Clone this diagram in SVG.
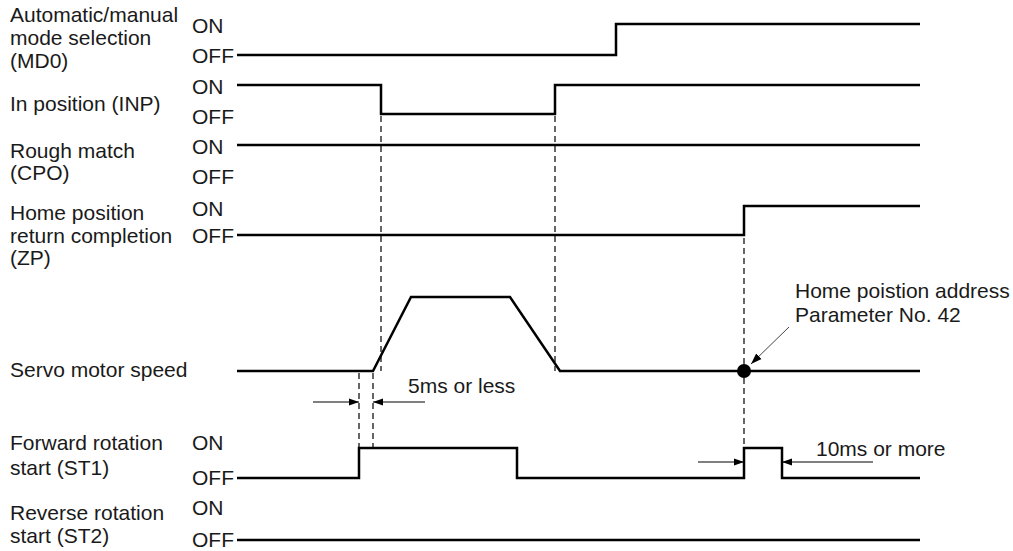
<svg xmlns="http://www.w3.org/2000/svg" width="1013" height="551" viewBox="0 0 1013 551">
<defs>
<style>
text{font-family:"Liberation Sans",Arial,sans-serif;font-size:21px;fill:#1a1a1a}
.sig{fill:none;stroke:#000;stroke-width:2.5}
.dash{fill:none;stroke:#000;stroke-width:1.2;stroke-dasharray:6,4}
.arr{fill:none;stroke:#000;stroke-width:1}
</style>
<marker id="ah" viewBox="0 0 10 10" refX="10" refY="5" markerWidth="10" markerHeight="10" markerUnits="userSpaceOnUse" orient="auto"><path d="M0,1.5L10,5L0,8.5Z" fill="#000"/></marker>
<marker id="ahg" viewBox="0 0 10 10" refX="10" refY="5" markerWidth="11" markerHeight="11" markerUnits="userSpaceOnUse" orient="auto"><path d="M0,1.5L10,5L0,8.5Z" fill="#000"/></marker>
</defs>
<rect width="1013" height="551" fill="#fff"/>

<g id="md0">
<text x="10" y="22">Automatic/manual</text>
<text x="10" y="45">mode selection</text>
<text x="10" y="68">(MD0)</text>
<text x="192" y="33">ON</text>
<text x="192" y="63">OFF</text>
<path class="sig" d="M237,55H616V24H920"/>
</g>

<g id="inp">
<text x="10" y="111">In position (INP)</text>
<text x="192" y="94">ON</text>
<text x="192" y="124">OFF</text>
<path class="sig" d="M237,85H381V114H555V85H920"/>
</g>

<g id="cpo">
<text x="10" y="158">Rough match</text>
<text x="10" y="180">(CPO)</text>
<text x="192" y="154">ON</text>
<text x="192" y="184">OFF</text>
<path class="sig" d="M237,145H920"/>
</g>

<g id="zp">
<text x="10" y="220">Home position</text>
<text x="10" y="243">return completion</text>
<text x="10" y="265">(ZP)</text>
<text x="192" y="216">ON</text>
<text x="192" y="243">OFF</text>
<path class="sig" d="M237,235H744V206H920"/>
</g>

<g id="speed">
<text x="10" y="377">Servo motor speed</text>
<path class="sig" d="M237,371H373L411,297H510L560,371H920"/>
<circle cx="744" cy="371" r="7" fill="#000"/>
</g>

<g id="st1">
<text x="10" y="450">Forward rotation</text>
<text x="10" y="475">start (ST1)</text>
<text x="192" y="450">ON</text>
<text x="192" y="485">OFF</text>
<path class="sig" d="M237,478H359V448H517V478H744V448H782V478H920"/>
</g>

<g id="st2">
<text x="10" y="520">Reverse rotation</text>
<text x="10" y="543">start (ST2)</text>
<text x="192" y="515">ON</text>
<text x="192" y="547">OFF</text>
<path class="sig" d="M237,540H920"/>
</g>

<g id="annotations">
<text x="408" y="393">5ms or less</text>
<text x="816" y="456">10ms or more</text>
<text x="795" y="298">Home poistion address</text>
<text x="795" y="322">Parameter No. 42</text>
</g>

<g id="connectors">
<path class="dash" d="M381,116V371"/>
<path class="dash" d="M555,116V371"/>
<path class="dash" d="M359,373V447"/>
<path class="dash" d="M373,373V447"/>
<path class="dash" d="M744,208V447"/>
<path class="arr" d="M313,402H359" marker-end="url(#ah)"/>
<path class="arr" d="M425,402H373" marker-end="url(#ah)"/>
<path class="arr" d="M698,462H744" marker-end="url(#ah)"/>
<path class="arr" d="M873,462H782" marker-end="url(#ah)"/>
<path d="M789,327L751,364" fill="none" stroke="#444" stroke-width="1" marker-end="url(#ahg)"/>
</g>
</svg>
